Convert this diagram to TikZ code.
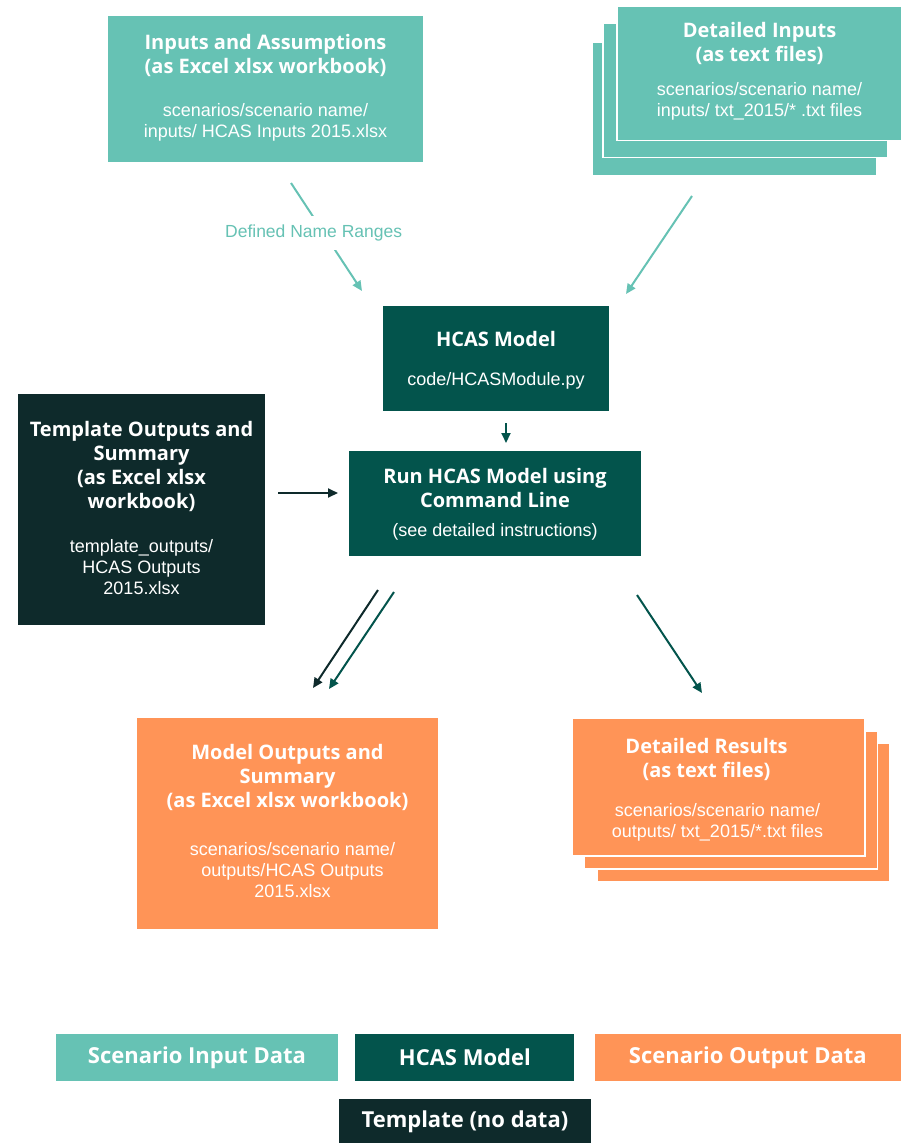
\documentclass[tikz,border=0pt]{standalone}
\usepackage{fontspec}
\setmainfont{Liberation Sans}
\newfontfamily\gillfont{Open Sans}
\usetikzlibrary{positioning,arrows.meta}
\definecolor{scenIn}{HTML}{66C2B4}
\definecolor{hcasGreen}{HTML}{03544C}
\definecolor{tmplDark}{HTML}{0E2A2B}
\definecolor{scenOut}{HTML}{FF9457}
\tikzset{
  databox/.style={rectangle, inner sep=0pt, draw=white, line width=1.2pt},
  ttl/.style={text=white, align=center, inner sep=0pt, font=\gillfont\bfseries\fontsize{20}{24}\selectfont},
  bdy/.style={text=white, align=center, inner sep=0pt, font=\fontsize{18}{21}\selectfont},
  flow/.style={line width=2pt, -{Triangle[length=10pt,width=9pt]}},
  legend/.style={rectangle, inner sep=0pt, text=white, minimum height=47pt, font=\gillfont\bfseries\fontsize{22}{24}\selectfont}
}

\begin{document}
\begin{tikzpicture}[x=1pt,y=-1pt]
\useasboundingbox (0,0) rectangle (904,1143);

% scenario inputs
\node[databox, fill=scenIn, minimum width=317pt, minimum height=148pt] (inA) at (265.5,89) {};
\node[ttl, below=20pt of inA.north] (inA-t) {Inputs and Assumptions\\(as Excel xlsx workbook)};
\node[bdy, below=26pt of inA-t] (inA-b) {scenarios/scenario name/\\inputs/ HCAS Inputs 2015.xlsx};

\foreach \nm/\cx/\cy in {di3/734.5/109, di2/745.5/90.5, di1/759.5/73.5}
  \node[databox, fill=scenIn, minimum width=285pt, minimum height=134pt] (\nm) at (\cx,\cy) {};
\node[ttl, below=16pt of di1.north] (di-t) {Detailed Inputs\\(as text files)};
\node[bdy, below=18pt of di-t] (di-b) {scenarios/scenario name/\\inputs/ txt\_2015/* .txt files};

% model
\node[databox, fill=hcasGreen, minimum width=228pt, minimum height=107pt] (hcas) at (496,358.5) {};
\node[ttl, below=27pt of hcas.north] (hcas-t) {HCAS Model};
\node[bdy, below=25pt of hcas-t] (hcas-b) {code/HCASModule.py};

\node[databox, fill=hcasGreen, minimum width=294pt, minimum height=107pt] (run) at (495,503.5) {};
\node[ttl, below=19pt of run.north] (run-t) {Run HCAS Model using\\Command Line};
\node[bdy, below=15pt of run-t] (run-b) {(see detailed instructions)};

% template
\node[databox, fill=tmplDark, minimum width=249pt, minimum height=233pt] (tmpl) at (141.5,509.5) {};
\node[ttl, below=29pt of tmpl.north] (tmpl-t) {Template Outputs and\\Summary\\(as Excel xlsx\\workbook)};
\node[bdy, below=27pt of tmpl-t] (tmpl-b) {template\_outputs/\\HCAS Outputs\\2015.xlsx};

% scenario outputs
\node[databox, fill=scenOut, minimum width=303pt, minimum height=213pt] (mout) at (287.5,823.5) {};
\node[ttl, below=28pt of mout.north] (mout-t) {Model Outputs and\\Summary\\(as Excel xlsx workbook)};
\node[bdy, below=31pt of mout-t, xshift=5pt] (mout-b) {scenarios/scenario name/\\outputs/HCAS Outputs\\2015.xlsx};

\foreach \nm/\cx/\cy in {dr3/743.5/812.5, dr2/731/800, dr1/718.5/787}
  \node[databox, fill=scenOut, minimum width=293pt, minimum height=138pt] (\nm) at (\cx,\cy) {};
\node[ttl, below=21pt of dr1.north, xshift=-12pt] (dr-t) {Detailed Results\\(as text files)};
\node[bdy, below=22pt of dr-t, xshift=11pt] (dr-b) {scenarios/scenario name/\\outputs/ txt\_2015/*.txt files};

% arrows
\coordinate (dnr-s) at (291,183);
\coordinate (dnr-e) at (362,291);
\coordinate (di-s) at (692,196);
\coordinate (di-e) at (626,294);
\coordinate (hcas-s) at (506,423);
\coordinate (run-e) at (506,443);
\coordinate (tmpl-s) at (278,493);
\coordinate (tmpl-e) at (338,493);
\coordinate (tm-s) at (378,590);
\coordinate (tm-e) at (313,688);
\coordinate (mo-s) at (394,592);
\coordinate (mo-e) at (329,689);
\coordinate (dr-s) at (637,595);
\coordinate (dr-e) at (702,693);

\draw[flow, scenIn] (dnr-s) -- node[pos=0.46, xshift=-10pt, fill=white, inner xsep=2pt, inner ysep=9pt, font=\fontsize{17.5}{20}\selectfont] (dnr) {Defined Name Ranges} (dnr-e);
\draw[flow, scenIn] (di-s) -- (di-e);
\draw[flow, hcasGreen] (hcas-s) -- (run-e);
\draw[flow, tmplDark] (tmpl-s) -- (tmpl-e);
\draw[flow, tmplDark] (tm-s) -- (tm-e);
\draw[flow, hcasGreen] (mo-s) -- (mo-e);
\draw[flow, hcasGreen] (dr-s) -- (dr-e);

% legend
\node[legend, fill=scenIn, minimum width=282pt] (legIn) at (197,1057.5) {Scenario Input Data};
\node[legend, fill=hcasGreen, minimum width=219pt, right=17pt of legIn] (legHC) {HCAS Model};
\node[legend, fill=scenOut, minimum width=306pt, right=20pt of legHC] (legOut) {Scenario Output Data};
\node[legend, fill=tmplDark, minimum width=252pt, minimum height=44pt, below=18pt of legHC] (legTm) {Template (no data)};

\end{tikzpicture}
\end{document}
